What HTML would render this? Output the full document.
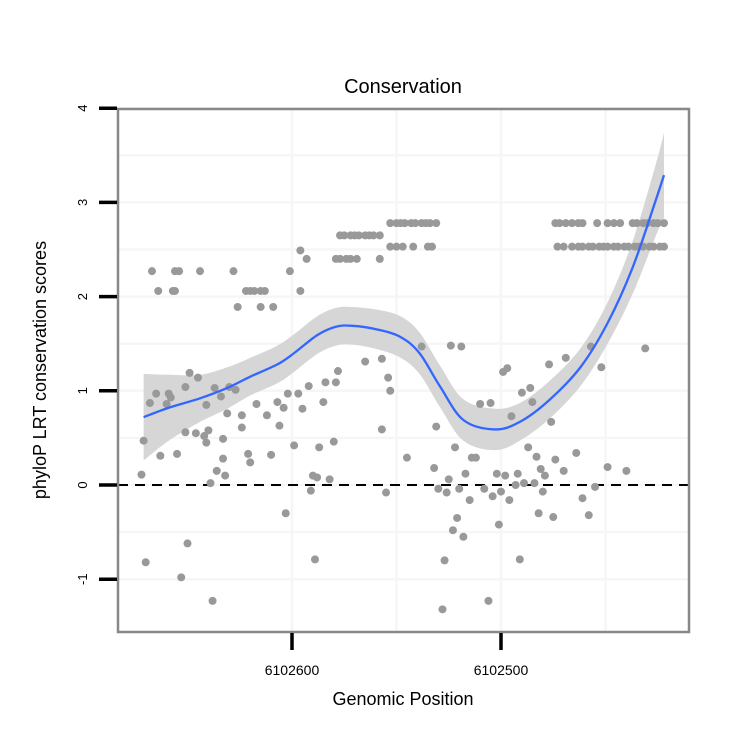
<!DOCTYPE html>
<html><head><meta charset="utf-8"><style>
html,body{margin:0;padding:0;background:#fff;}
svg text{font-family:"Liberation Sans",sans-serif;}
</style></head><body>
<svg id="chart" width="750" height="750" viewBox="0 0 750 750" xmlns="http://www.w3.org/2000/svg">
<rect x="0" y="0" width="750" height="750" fill="#fff"/>
<text x="403" y="93" font-size="20" text-anchor="middle">Conservation</text>
<g id="grid"></g>
<g id="band"></g>
<line id="zeroline" stroke="#000" stroke-width="2" stroke-dasharray="10,7"/>
<g id="points"></g>
<g id="fit"></g>
<rect x="118" y="109" width="571" height="523" fill="none" stroke="#888" stroke-width="2.5"/>
<g id="yaxis"></g>
<g id="xaxis"></g>
<text x="403" y="705" font-size="18" text-anchor="middle">Genomic Position</text>
<text transform="translate(46,370) rotate(-90)" font-size="18" text-anchor="middle">phyloP LRT conservation scores</text>
</svg>
<script>
const yTicks=[4,3,2,1,0,-1];
const yTickLabels=["4","3","2","1","0","-1"];
const xTicks=[6102600,6102500];
const xTickLabels=["6102600","6102500"];
const xMinorGrid=[6102550,6102450];
const yMinorGrid=[3.5,2.5,1.5,0.5,-0.5];
const pointPos=[
6102667,6102656,6102654,6102644,6102628,6102601,
6102664,6102657,6102656,6102622,6102620,6102618,6102615,6102613,6102596,
6102626,6102615,6102609,6102596,6102593,
6102577,6102575,6102572,6102570,6102568,6102565,6102563,6102561,6102558,
6102579,6102577,6102574,6102572,6102569,6102558,
6102553,6102550,6102548,6102546,6102543,6102541,6102538,6102536,6102534,6102531,
6102553,6102550,6102547,6102542,6102535,6102533,
6102474,6102472,6102469,6102466,6102463,6102461,6102454,6102449,6102446,6102443,6102437,6102435,6102432,6102430,6102427,6102425,6102422,
6102473,6102470,6102466,6102463,6102461,6102458,6102456,6102453,6102451,6102449,6102446,6102444,6102441,6102439,6102436,6102434,6102432,6102429,6102427,6102424,6102422,
6102671,6102672,6102670,6102650,6102653,6102638,6102668,6102665,6102659,6102658,6102660,6102651,6102649,6102645,6102651,6102646,6102642,6102641,6102640,6102633,6102663,6102655,6102641,6102637,6102634,6102631,6102630,6102627,6102624,6102624,6102633,6102636,6102632,6102639,6102621,6102620,6102617,6102612,6102607,6102604,6102602,6102597,6102595,6102592,6102606,6102610,6102599,6102590,6102588,6102591,6102603,6102589,6102585,6102584,6102579,6102578,6102587,6102580,6102582,6102565,6102557,6102554,6102553,6102557,6102555,6102545,
6102538,6102524,6102519,6102531,6102522,6102532,6102512,6102514,6102517,6102525,6102530,6102526,6102520,6102515,6102521,6102523,6102518,6102527,6102528,6102506,6102501,6102491,6102508,6102504,6102500,6102496,6102502,6102498,6102492,6102493,6102489,6102484,6102480,6102482,6102475,6102487,6102483,6102481,6102479,6102474,6102470,6102464,6102461,6102458,6102455,6102449,6102440,6102510,6102505,6102495,6102499,6102497,6102490,6102486,6102485,6102476,6102477,6102469,6102457,6102452,6102431];
const pointScore=[
2.27,2.27,2.27,2.27,2.27,2.27,
2.06,2.06,2.06,2.06,2.06,2.06,2.06,2.06,2.06,
1.89,1.89,1.89,2.49,2.40,
2.65,2.65,2.65,2.65,2.65,2.65,2.65,2.65,2.65,
2.40,2.40,2.40,2.40,2.40,2.40,
2.78,2.78,2.78,2.78,2.78,2.78,2.78,2.78,2.78,2.78,
2.53,2.53,2.53,2.53,2.53,2.53,
2.78,2.78,2.78,2.78,2.78,2.78,2.78,2.78,2.78,2.78,2.78,2.78,2.78,2.78,2.78,2.78,2.78,
2.53,2.53,2.53,2.53,2.53,2.53,2.53,2.53,2.53,2.53,2.53,2.53,2.53,2.53,2.53,2.53,2.53,2.53,2.53,2.53,2.53,
0.47,0.11,-0.82,-0.62,-0.98,-1.23,0.87,0.97,0.97,0.93,0.86,1.04,1.19,1.14,0.56,0.55,0.52,0.45,0.58,0.49,0.31,0.33,0.85,1.03,0.94,0.76,1.04,1.01,0.74,0.61,0.28,0.15,0.10,0.02,0.33,0.24,0.86,0.74,0.88,0.82,0.97,0.97,0.81,1.05,0.63,0.32,0.42,0.10,0.08,-0.06,-0.30,-0.79,0.88,1.09,1.09,1.21,0.40,0.46,0.06,1.31,1.34,1.14,1.00,0.59,-0.08,0.29,
1.47,1.48,1.47,0.62,0.40,0.18,0.29,0.29,0.12,0.06,-0.04,-0.08,-0.04,-0.16,-0.35,-0.48,-0.55,-0.80,-1.32,-1.23,-0.42,-0.79,-0.04,-0.12,-0.07,-0.16,0.12,0.10,0.12,0.00,0.02,0.02,-0.07,-0.30,-0.34,0.40,0.30,0.17,0.10,0.27,0.15,0.34,-0.14,-0.32,-0.02,0.19,0.15,0.86,0.87,0.73,1.20,1.24,0.98,1.03,0.88,0.67,1.28,1.35,1.47,1.25,1.45];
const fitPos=[6102671,6102659,6102644,6102631,6102620,6102607,6102599,6102588,6102579,6102571,6102559,6102548,6102539,6102529,6102518,6102503,6102491,6102477,6102462,6102449,6102437,6102426,6102422];
const fitScore=[0.72,0.82,0.92,1.03,1.15,1.28,1.40,1.59,1.68,1.69,1.65,1.57,1.40,1.04,0.69,0.59,0.67,0.90,1.25,1.72,2.31,3.02,3.29];
const fitSE=[0.46,0.35,0.25,0.22,0.2,0.2,0.2,0.2,0.2,0.2,0.21,0.22,0.22,0.22,0.22,0.22,0.2,0.2,0.2,0.22,0.28,0.38,0.45];

const NS="http://www.w3.org/2000/svg";
const xs=p=>292+(6102600-p)*2.09;
const ys=v=>485-v*94.2;
function mk(tag,parent){const e=document.createElementNS(NS,tag);parent.appendChild(e);return e;}
function spline(pts,start){
  let d=start?('M'+pts[0][0]+','+pts[0][1]):('L'+pts[0][0]+','+pts[0][1]);
  for(let i=0;i<pts.length-1;i++){
    const p0=pts[i>0?i-1:i],p1=pts[i],p2=pts[i+1],p3=pts[i+2<pts.length?i+2:i+1];
    const c1x=p1[0]+(p2[0]-p0[0])/6,c1y=p1[1]+(p2[1]-p0[1])/6;
    const c2x=p2[0]-(p3[0]-p1[0])/6,c2y=p2[1]-(p3[1]-p1[1])/6;
    d+=' C'+c1x+','+c1y+' '+c2x+','+c2y+' '+p2[0]+','+p2[1];
  }
  return d;
}
const grid=document.getElementById('grid');
xMinorGrid.concat(xTicks).forEach(p=>{const l=mk('line',grid);


l.setAttribute('x1',xs(p));l.setAttribute('x2',xs(p));l.setAttribute('y1',109);l.setAttribute('y2',632);l.setAttribute('stroke','#f6f6f6');l.setAttribute('stroke-width',2.5);});
yMinorGrid.concat(yTicks).forEach(v=>{const l=mk('line',grid);


l.setAttribute('x1',118);l.setAttribute('x2',689);l.setAttribute('y1',ys(v));l.setAttribute('y2',ys(v));l.setAttribute('stroke','#f6f6f6');l.setAttribute('stroke-width',2.5);});
const bandTop=fitPos.map((p,i)=>[xs(p),ys(fitScore[i]+fitSE[i])]);
const bandBot=fitPos.map((p,i)=>[xs(p),ys(fitScore[i]-fitSE[i])]).reverse();
const band=mk('path',document.getElementById('band'));


band.setAttribute('d',spline(bandTop,true)+' '+spline(bandBot,false)+' Z');band.setAttribute('fill','#d6d6d6');
const z=document.getElementById('zeroline');
z.setAttribute('x1',118);z.setAttribute('x2',689);z.setAttribute('y1',ys(0));z.setAttribute('y2',ys(0));
const pg=document.getElementById('points');
pointPos.forEach((p,i)=>{const c=mk('circle',pg);


c.setAttribute('cx',xs(p));c.setAttribute('cy',ys(pointScore[i]));c.setAttribute('r',4);c.setAttribute('fill','#999');});
const fl=mk('path',document.getElementById('fit'));


fl.setAttribute('d',spline(fitPos.map((p,i)=>[xs(p),ys(fitScore[i])]),true));
fl.setAttribute('fill','none');fl.setAttribute('stroke','#3366ff');fl.setAttribute('stroke-width',2.3);
const ya=document.getElementById('yaxis');
yTicks.forEach((v,i)=>{const t=mk('line',ya);


t.setAttribute('x1',99);t.setAttribute('x2',117);t.setAttribute('y1',ys(v));t.setAttribute('y2',ys(v));t.setAttribute('stroke','#000');t.setAttribute('stroke-width',3.5);
const lb=mk('text',ya);


lb.setAttribute('transform','translate(87,'+ys(v)+') rotate(-90)');lb.setAttribute('text-anchor','middle');lb.setAttribute('font-size','13');lb.textContent=yTickLabels[i];});
const xa=document.getElementById('xaxis');
xTicks.forEach((p,i)=>{const t=mk('line',xa);


t.setAttribute('x1',xs(p));t.setAttribute('x2',xs(p));t.setAttribute('y1',633);t.setAttribute('y2',650);t.setAttribute('stroke','#000');t.setAttribute('stroke-width',3.5);
const lb=mk('text',xa);


lb.setAttribute('x',xs(p));lb.setAttribute('y',675);lb.setAttribute('text-anchor','middle');lb.setAttribute('font-size','14');lb.textContent=xTickLabels[i];});
</script>
</body></html>
